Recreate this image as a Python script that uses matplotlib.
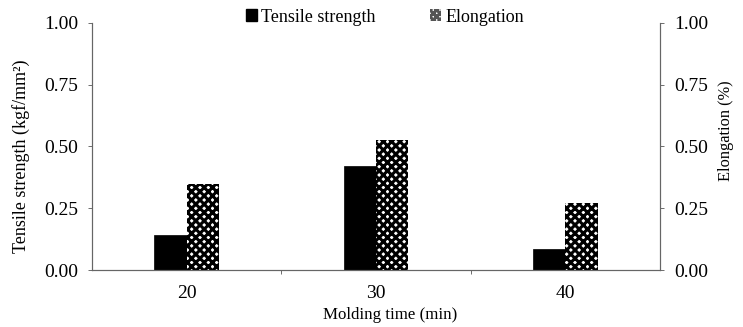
import numpy as np
import matplotlib.pyplot as plt
from matplotlib.patches import Patch

plt.rcParams['font.family'] = ['Liberation Serif', 'DejaVu Serif']
plt.rcParams['hatch.linewidth'] = 2.2

molding_time = ['20', '30', '40']
tensile = [0.142, 0.42, 0.085]
elongation = [0.348, 0.526, 0.27]
yticks = [0.0, 0.25, 0.5, 0.75, 1.0]

fig = plt.figure(figsize=(7.43, 3.27), dpi=100)
ax = fig.add_axes([0.1238, 0.1743, 0.7645, 0.7554])
ax2 = ax.twinx()

x = np.arange(len(molding_time))
w = 0.17
ax.bar(x - w / 2, tensile, w, color='black', edgecolor='black', linewidth=0.5,
       label='Tensile strength')
ax2.bar(x + w / 2, elongation, w, color='white', edgecolor='black', linewidth=0,
        hatch='xxxx', label='Elongation')

for a in (ax, ax2):
    a.set_ylim(0, 1.0)
    a.set_yticks(yticks)
    a.set_yticklabels(['%.2f' % t for t in yticks])
    a.tick_params(axis='y', length=3, width=0.6, labelsize=14, colors='#555555',
                  labelcolor='black', pad=7)
    for s in a.spines.values():
        s.set_color('#666666')
        s.set_linewidth(0.8)
    a.spines['top'].set_visible(False)

ax.set_xlim(-0.5, 2.5)
ax.set_xticks(x)
ax.set_xticklabels(molding_time, fontsize=14)
ax.tick_params(axis='x', length=0, pad=11)
ax.set_xticks([0.5, 1.5], minor=True)
ax.tick_params(axis='x', which='minor', length=3, width=0.6, colors='#555555')

# axis titles sit a bit off-centre in the original
fig.text(390 / 743, 1 - 315 / 327, 'Molding time (min)', fontsize=12.2,
         ha='center', va='center')
fig.text(21 / 743, 1 - 156 / 327, 'Tensile strength (kgf/mm²)', fontsize=13,
         rotation=90, ha='center', va='center')
fig.text(726 / 743, 1 - 131 / 327, 'Elongation (%)', fontsize=11.8,
         rotation=90, ha='center', va='center')

handles = [Patch(facecolor='black', edgecolor='black', label='Tensile strength'),
           Patch(facecolor='white', edgecolor='#555555', hatch='xxxxx', linewidth=0,
                 label='Elongation')]
fig.legend(handles=handles, loc='center', bbox_to_anchor=(0.518, 1 - 17 / 327), ncol=2,
           frameon=False, fontsize=13, handlelength=0.6, handleheight=0.6,
           handletextpad=0.25, columnspacing=3.0, borderpad=0)

fig.savefig('out.png', dpi=100)
